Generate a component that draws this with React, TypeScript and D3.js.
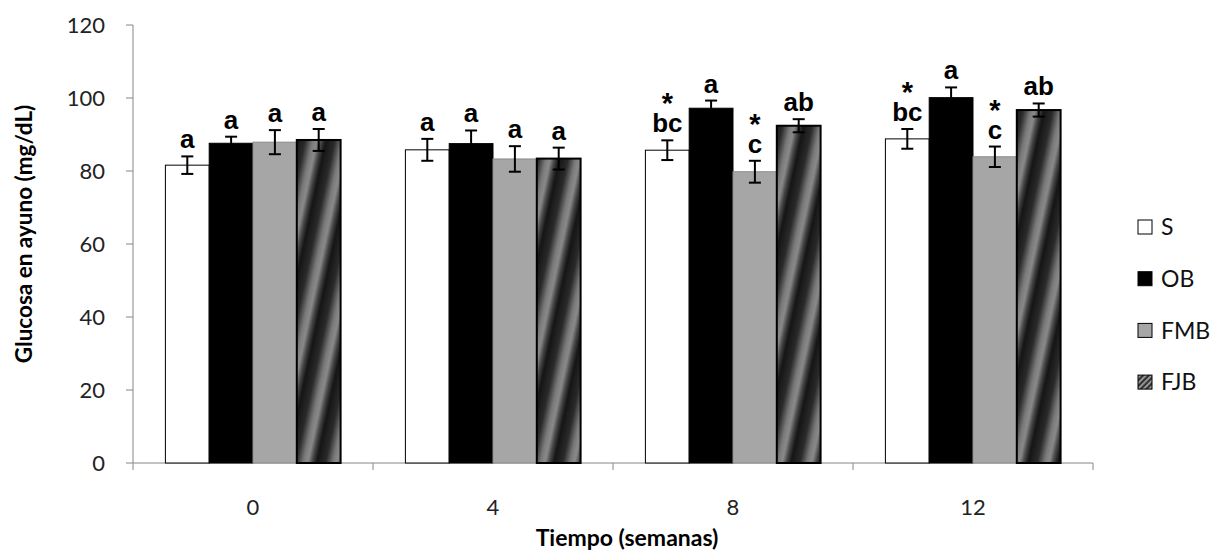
import React from 'react'
import * as d3 from 'd3'

const weeks = ['0', '4', '8', '12']
const groups = ['S', 'OB', 'FMB', 'FJB']
const means = [
  [81.6, 87.6, 87.9, 88.5],
  [85.8, 87.5, 83.3, 83.4],
  [85.7, 97.2, 79.8, 92.4],
  [88.8, 100.1, 83.9, 96.7],
]
const errs = [
  [2.4, 1.8, 3.3, 3.0],
  [3.0, 3.6, 3.5, 3.0],
  [2.7, 2.1, 3.0, 1.8],
  [2.7, 2.8, 2.8, 1.8],
]
const letters = [
  ['a', 'a', 'a', 'a'],
  ['a', 'a', 'a', 'a'],
  ['bc', 'a', 'c', 'ab'],
  ['bc', 'a', 'c', 'ab'],
]
const stars = [
  [false, false, false, false],
  [false, false, false, false],
  [true, false, true, false],
  [true, false, true, false],
]
const yTicks = [0, 20, 40, 60, 80, 100, 120]

const fills: Record<string, string> = { S: '#ffffff', OB: '#000000', FMB: '#a6a6a6', FJB: 'url(#stripes)' }
const strokes: Record<string, string> = { S: '#000', OB: '#000', FMB: '#8c8c8c', FJB: '#000' }

export default function App() {
  const width = 1217
  const height = 550
  const left = 133
  const right = 1093
  const top = 25
  const bottom = 463

  const x0 = d3.scaleBand().domain(weeks).range([left, right]).paddingInner(0.27).paddingOuter(0.135)
  const x1 = d3.scaleBand().domain(groups).range([0, x0.bandwidth()])
  const y = d3.scaleLinear().domain([0, 120]).range([bottom, top])
  const step = x0.step()
  const tickFont = "Lato, 'Open Sans', sans-serif"
  const letterFont = "'Liberation Sans', Arial, sans-serif"

  return (
    <svg width={width} height={height} style={{ position: 'absolute', left: 0, top: 0 }}>
      <defs>
        <linearGradient id="stripeGrad" x1="0" x2="1" y1="0" y2="0">
          <stop offset="0" stopColor="#151515" />
          <stop offset="0.3" stopColor="#2a2a2a" />
          <stop offset="0.55" stopColor="#7a7a7a" />
          <stop offset="0.7" stopColor="#8a8a8a" />
          <stop offset="0.85" stopColor="#444" />
          <stop offset="1" stopColor="#151515" />
        </linearGradient>
        <pattern id="stripes" width="29" height="300" patternUnits="userSpaceOnUse" patternTransform="rotate(12)">
          <rect width="29" height="300" fill="url(#stripeGrad)" />
        </pattern>
        <pattern id="hatch" width="4" height="4" patternUnits="userSpaceOnUse" patternTransform="rotate(45)">
          <rect width="4" height="4" fill="#333" />
          <rect width="1.6" height="4" fill="#aaa" />
        </pattern>
      </defs>

      {/* y axis */}
      <line x1={left} x2={left} y1={top} y2={bottom} stroke="#868686" strokeWidth={1} />
      {yTicks.map(t => (
        <g key={t}>
          <line x1={left - 7} x2={left} y1={y(t)} y2={y(t)} stroke="#868686" />
          <text x={left - 28} y={y(t)} dy="0.35em" textAnchor="end" fontFamily={tickFont} fontSize={22} fill="#222">{t}</text>
        </g>
      ))}

      {/* x axis */}
      <line x1={left} x2={right} y1={bottom} y2={bottom} stroke="#868686" />
      {d3.range(weeks.length + 1).map(i => (
        <line key={i} x1={left + step * i} x2={left + step * i} y1={bottom} y2={bottom + 7} stroke="#868686" />
      ))}
      {weeks.map(w => (
        <text key={w} x={x0(w)! + x0.bandwidth() / 2} y={515} textAnchor="middle" fontFamily={tickFont} fontSize={22} fill="#222">{w}</text>
      ))}

      {/* bars */}
      {weeks.map((w, i) => groups.map((g, j) => {
        const bx = x0(w)! + x1(g)!
        const v = means[i][j]
        const e = errs[i][j]
        const cx = bx + x1.bandwidth() / 2
        const errTop = y(v + e)
        return (
          <g key={w + g}>
            <rect x={bx} y={y(v)} width={x1.bandwidth()} height={bottom - y(v)} fill={fills[g]} stroke={strokes[g]} strokeWidth={g === 'FJB' ? 2 : 1} />
            <line x1={cx} x2={cx} y1={y(v + e)} y2={y(v - e)} stroke="#000" strokeWidth={2} />
            <line x1={cx - 6} x2={cx + 6} y1={y(v + e)} y2={y(v + e)} stroke="#000" strokeWidth={2} />
            <line x1={cx - 6} x2={cx + 6} y1={y(v - e)} y2={y(v - e)} stroke="#000" strokeWidth={2} />
            <text x={cx} y={errTop - 8} textAnchor="middle" fontFamily={letterFont} fontWeight="bold" fontSize={26} fill="#000">{letters[i][j]}</text>
            {stars[i][j] && (
              <text x={cx} y={errTop - 27} textAnchor="middle" fontFamily={letterFont} fontWeight="bold" fontSize={29} fill="#000">*</text>
            )}
          </g>
        )
      }))}

      {/* axis titles */}
      <text transform="translate(32, 234) rotate(-90)" textAnchor="middle" fontFamily={tickFont} fontWeight="bold" fontSize={22.5} fill="#000">Glucosa en ayuno (mg/dL)</text>
      <text x={627} y={546} textAnchor="middle" fontFamily={tickFont} fontWeight="bold" fontSize={23} fill="#000">Tiempo (semanas)</text>

      {/* legend */}
      {groups.map((g, i) => (
        <g key={g} transform={`translate(1138, ${227 + i * 51.7})`}>
          <rect x={0} y={-7} width={14} height={14} fill={g === 'FJB' ? 'url(#hatch)' : fills[g]} stroke="#000" strokeWidth={1} />
          <text x={23} y={0} dy="0.36em" fontFamily={tickFont} fontSize={23} fill="#111">{g}</text>
        </g>
      ))}
    </svg>
  )
}
